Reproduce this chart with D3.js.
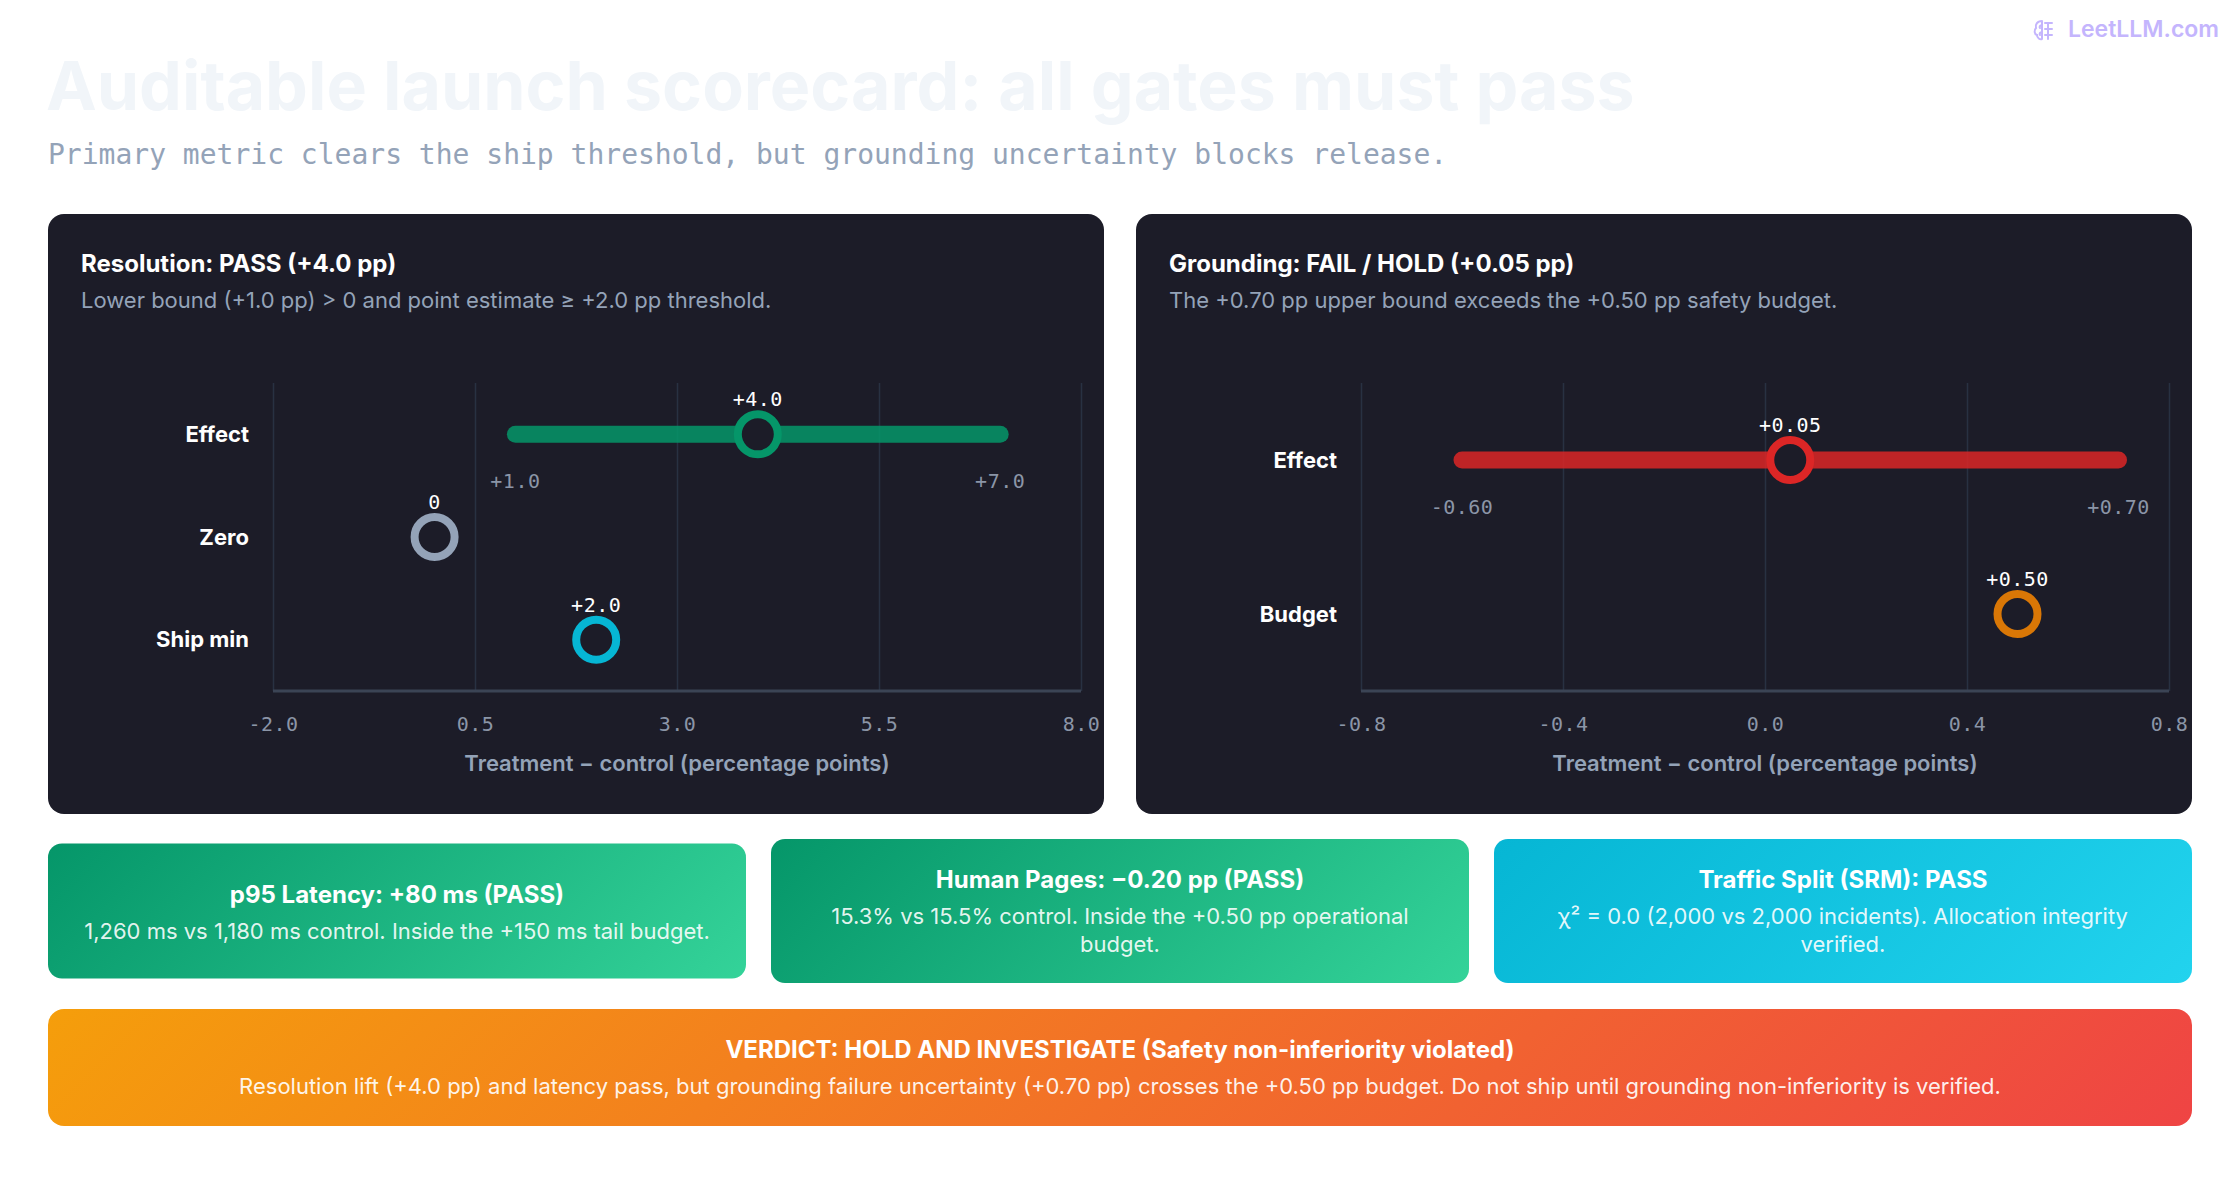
<!DOCTYPE html>
<html>
<head>
<meta charset="utf-8">
<script src="https://cdn.jsdelivr.net/npm/d3@7"></script>
<style>
  html, body { margin: 0; padding: 0; background: #ffffff; }
  svg { display: block; }
  text { font-family: Inter, "Noto Sans", sans-serif; }
  .mono { font-family: "DejaVu Sans Mono", "Liberation Mono", monospace; }
</style>
</head>
<body>
<svg id="chart" width="2240" height="1200"></svg>
<script>
// ---------------- DATA ----------------
const pageTitle = "Auditable launch scorecard: all gates must pass";
const pageSubtitle = "Primary metric clears the ship threshold, but grounding uncertainty blocks release.";
const watermark = "LeetLLM.com";

// Resolution panel
const resTitle = "Resolution: PASS (+4.0 pp)";
const resSubtitle = "Lower bound (+1.0 pp) > 0 and point estimate \u2265 +2.0 pp threshold.";
const resCategories = ["Effect", "Zero", "Ship min"];
const resPoints = [4.0, 0.0, 2.0];
const resPointLabels = ["+4.0", "0", "+2.0"];
const resPointColors = ["#059669", "#94a3b8", "#06b6d4"];
const resInterval = [1.0, 7.0];
const resIntervalLabels = ["+1.0", "+7.0"];
const resDomain = [-2.0, 8.0];
const resTicks = [-2.0, 0.5, 3.0, 5.5, 8.0];

// Grounding panel
const grdTitle = "Grounding: FAIL / HOLD (+0.05 pp)";
const grdSubtitle = "The +0.70 pp upper bound exceeds the +0.50 pp safety budget.";
const grdCategories = ["Effect", "Budget"];
const grdPoints = [0.05, 0.50];
const grdPointLabels = ["+0.05", "+0.50"];
const grdPointColors = ["#dc2626", "#d97706"];
const grdInterval = [-0.60, 0.70];
const grdIntervalLabels = ["-0.60", "+0.70"];
const grdDomain = [-0.8, 0.8];
const grdTicks = [-0.8, -0.4, 0.0, 0.4, 0.8];

const axisTitle = "Treatment \u2212 control (percentage points)";

// Secondary gate cards
const cardTitles = ["p95 Latency: +80 ms (PASS)", "Human Pages: \u22120.20 pp (PASS)", "Traffic Split (SRM): PASS"];
const cardBodies = [
  "1,260 ms vs 1,180 ms control. Inside the +150 ms tail budget.",
  "15.3% vs 15.5% control. Inside the +0.50 pp operational budget.",
  "\u03c7\u00b2 = 0.0 (2,000 vs 2,000 incidents). Allocation integrity verified."
];
const cardGradients = [["#059669", "#34d399"], ["#059669", "#34d399"], ["#06b6d4", "#22d3ee"]];

const verdictTitle = "VERDICT: HOLD AND INVESTIGATE (Safety non-inferiority violated)";
const verdictBody = "Resolution lift (+4.0 pp) and latency pass, but grounding failure uncertainty (+0.70 pp) crosses the +0.50 pp budget. Do not ship until grounding non-inferiority is verified.";
const verdictGradient = ["#f59e0b", "#ef4444"];

// ---------------- DRAW ----------------
const svg = d3.select("#chart");
const defs = svg.append("defs");
svg.append("rect").attr("width", 2240).attr("height", 1200).attr("fill", "#ffffff");

// CSS-like 135deg gradient in user space
function addGradient(id, c, x, y, w, h) {
  const cx = x + w / 2, cy = y + h / 2;
  const d = Math.SQRT1_2;
  const L = (w + h) * d;
  const g = defs.append("linearGradient").attr("id", id)
    .attr("gradientUnits", "userSpaceOnUse")
    .attr("x1", cx - d * L / 2).attr("y1", cy - d * L / 2)
    .attr("x2", cx + d * L / 2).attr("y2", cy + d * L / 2);
  g.append("stop").attr("offset", "0%").attr("stop-color", c[0]);
  g.append("stop").attr("offset", "100%").attr("stop-color", c[1]);
}

// Watermark
const wm = svg.append("g").attr("transform", "translate(2033,19)");
wm.append("path")
  .attr("d", "M9 2 C4 2 2 6 3 9 C1 11 1 15 4 16 C4 19 7 21 9 20 M9 2 L9 20 M9 6 C7 6 6 8 7 9 M9 13 C7 13 6 15 7 16 M12 4 L19 4 M12 10 L19 10 M12 16 L19 16 M15 4 L15 20")
  .attr("fill", "none").attr("stroke", "#c4b5fd").attr("stroke-width", 2).attr("stroke-linecap", "round");
svg.append("text").attr("x", 2219).attr("y", 37).attr("text-anchor", "end")
  .attr("font-size", 23).attr("font-weight", 600).attr("fill", "#c4b5fd").text(watermark);

// Title + subtitle
svg.append("text").attr("x", 46).attr("y", 110)
  .attr("font-size", 68).attr("font-weight", 700)
  .attr("fill", "#f1f5f9").text(pageTitle);
svg.append("text").attr("class", "mono").attr("x", 48).attr("y", 164)
  .attr("font-size", 28).attr("fill", "#94a3b8").text(pageSubtitle);

// Panels
const panelBg = "#1c1c28";
function drawPanel(px, title, subtitle, cats, pts, ptLabels, ptColors, interval, intLabels, domain, ticks, fmt) {
  const g = svg.append("g");
  g.append("rect").attr("x", px).attr("y", 214).attr("width", 1056).attr("height", 600)
    .attr("rx", 16).attr("fill", panelBg);
  g.append("text").attr("x", px + 33).attr("y", 272).attr("font-size", 24).attr("font-weight", 700)
    .attr("fill", "#ffffff").text(title);
  g.append("text").attr("x", px + 33).attr("y", 308).attr("font-size", 22).attr("font-weight", 400)
    .attr("fill", "#94a3b8").text(subtitle);

  const left = px + 225, right = px + 1033, top = 383, bottom = 691;
  const x = d3.scaleLinear().domain(domain).range([left, right]);
  const y = d3.scaleBand().domain(cats).range([top, bottom]).padding(0);

  // gridlines + axis
  const ax = g.append("g").attr("transform", `translate(0,${bottom})`)
    .call(d3.axisBottom(x).tickValues(ticks).tickFormat(fmt).tickSize(-(bottom - top)).tickPadding(26));
  ax.select(".domain").remove();
  ax.selectAll(".tick line").attr("stroke", "#283142").attr("stroke-width", 1.5);
  ax.selectAll(".tick text").attr("class", "mono").attr("font-size", 20).attr("letter-spacing", 0.5)
    .attr("fill", "#8b95a7").attr("font-family", "'DejaVu Sans Mono', monospace");
  g.append("line").attr("x1", left).attr("x2", right).attr("y1", bottom).attr("y2", bottom)
    .attr("stroke", "#3b4455").attr("stroke-width", 3);

  g.append("text").attr("x", (left + right) / 2).attr("y", 771).attr("text-anchor", "middle")
    .attr("font-size", 22).attr("font-weight", 600).attr("fill", "#94a3b8").text(axisTitle);

  // row labels
  g.selectAll(".rowlab").data(cats).join("text")
    .attr("x", px + 201).attr("y", d => y(d) + y.bandwidth() / 2)
    .attr("dy", "0.35em").attr("text-anchor", "end")
    .attr("font-size", 22).attr("font-weight", 700).attr("fill", "#ffffff").text(d => d);

  // interval on first row
  const cy0 = y(cats[0]) + y.bandwidth() / 2;
  g.append("line").attr("x1", x(interval[0])).attr("x2", x(interval[1]))
    .attr("y1", cy0).attr("y2", cy0)
    .attr("stroke", ptColors[0]).attr("stroke-opacity", 0.85)
    .attr("stroke-width", 17).attr("stroke-linecap", "round");
  g.selectAll(".intlab").data(interval).join("text")
    .attr("class", "mono")
    .attr("x", d => x(d)).attr("y", cy0 + 54).attr("text-anchor", "middle")
    .attr("font-size", 20).attr("letter-spacing", 0.5).attr("fill", "#8b95a7")
    .text((d, i) => intLabels[i]);

  // points
  const rows = cats.map((c, i) => ({ c, v: pts[i], lab: ptLabels[i], col: ptColors[i] }));
  g.selectAll(".pt").data(rows).join("circle")
    .attr("cx", d => x(d.v)).attr("cy", d => y(d.c) + y.bandwidth() / 2)
    .attr("r", 20).attr("fill", panelBg).attr("stroke", d => d.col).attr("stroke-width", 8);
  g.selectAll(".ptlab").data(rows).join("text")
    .attr("class", "mono")
    .attr("x", d => x(d.v)).attr("y", d => y(d.c) + y.bandwidth() / 2 - 28)
    .attr("text-anchor", "middle")
    .attr("font-size", 20).attr("letter-spacing", 0.5).attr("fill", "#ffffff")
    .text(d => d.lab);
}

const fmt1 = d => d.toFixed(1);
drawPanel(48, resTitle, resSubtitle, resCategories, resPoints, resPointLabels, resPointColors,
  resInterval, resIntervalLabels, resDomain, resTicks, fmt1);
drawPanel(1136, grdTitle, grdSubtitle, grdCategories, grdPoints, grdPointLabels, grdPointColors,
  grdInterval, grdIntervalLabels, grdDomain, grdTicks, fmt1);

// wrap helper
function wrapLines(textSel, str, maxW) {
  const words = str.split(" ");
  const lines = [];
  let cur = "";
  words.forEach(w => {
    const test = cur ? cur + " " + w : w;
    textSel.text(test);
    if (textSel.node().getComputedTextLength() > maxW && cur) {
      lines.push(cur); cur = w;
    } else cur = test;
  });
  if (cur) lines.push(cur);
  textSel.text(null);
  return lines;
}

// Cards
const cardW = 698, cardGap = 25, cardX0 = 48;
cardTitles.forEach((t, i) => {
  const id = "cg" + i;
  const cx = cardX0 + i * (cardW + cardGap);
  const g = svg.append("g");
  const tmp = g.append("text").attr("font-size", 22);
  const lines = wrapLines(tmp, cardBodies[i], 640);
  tmp.remove();
  const lineH = 28;
  const h = lines.length > 1 ? 144 : 135;
  const centerY = 911;
  const y0 = centerY - h / 2;
  addGradient(id, cardGradients[i], cx, y0, cardW, h);
  g.append("rect").attr("x", cx).attr("y", y0).attr("width", cardW).attr("height", h)
    .attr("rx", 14).attr("fill", `url(#${id})`);
  const blockTop = lines.length > 1 ? centerY - 40 : centerY - 25;
  g.append("text").attr("x", cx + cardW / 2).attr("y", blockTop + 17).attr("text-anchor", "middle")
    .attr("font-size", 24).attr("font-weight", 700).attr("fill", "#ffffff").text(t);
  const body = g.append("text").attr("text-anchor", "middle").attr("font-size", 22)
    .attr("fill", "#ffffff").attr("fill-opacity", 0.9);
  lines.forEach((ln, k) => {
    body.append("tspan").attr("x", cx + cardW / 2).attr("y", blockTop + 53 + k * lineH).text(ln);
  });
});

// Verdict
addGradient("vg", verdictGradient, 48, 1009, 2144, 117);
svg.append("rect").attr("x", 48).attr("y", 1009).attr("width", 2144).attr("height", 117)
  .attr("rx", 16).attr("fill", "url(#vg)");
svg.append("text").attr("x", 1120).attr("y", 1058).attr("text-anchor", "middle")
  .attr("font-size", 24).attr("font-weight", 700).attr("fill", "#ffffff").text(verdictTitle);
svg.append("text").attr("x", 1120).attr("y", 1094).attr("text-anchor", "middle")
  .attr("font-size", 22).attr("fill", "#ffffff").attr("fill-opacity", 0.92).text(verdictBody);
</script>
</body>
</html>
